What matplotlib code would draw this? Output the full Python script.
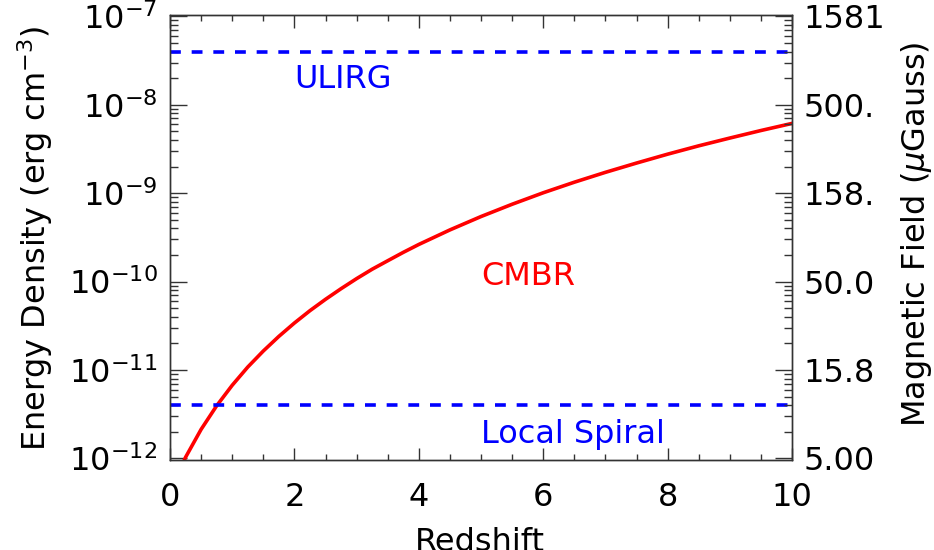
import matplotlib
matplotlib.use("Agg")
import matplotlib.pyplot as plt
from matplotlib.ticker import LogLocator, MultipleLocator, NullFormatter

plt.rcParams["font.family"] = ["DejaVu Sans"]
plt.rcParams["mathtext.fontset"] = "dejavusans"

# CMBR energy density vs redshift
redshift = [0.0, 0.25, 0.5, 0.75, 1.0, 1.25, 1.5, 1.75, 2.0, 2.25, 2.5,
            2.75, 3.0, 3.25, 3.5, 3.75, 4.0, 4.5, 5.0, 5.5, 6.0, 6.5, 7.0,
            7.5, 8.0, 8.5, 9.0, 9.5, 10.0]
cmbr = [4.2e-13, 1.03e-12, 2.13e-12, 3.94e-12, 6.72e-12, 1.08e-11,
        1.64e-11, 2.40e-11, 3.40e-11, 4.69e-11, 6.30e-11, 8.31e-11,
        1.08e-10, 1.38e-10, 1.72e-10, 2.14e-10, 2.63e-10, 3.84e-10,
        5.44e-10, 7.49e-10, 1.01e-9, 1.33e-9, 1.72e-9, 2.19e-9, 2.76e-9,
        3.43e-9, 4.20e-9, 5.11e-9, 6.15e-9]

ulirg = 4.0e-8
local_spiral = 4.0e-12

energy_ticks = [1e-12, 1e-11, 1e-10, 1e-9, 1e-8, 1e-7]
bfield_labels = ["5.00", "15.8", "50.0", "158.", "500.", "1581"]

FS = 23
AXC = "#333333"
LW = 2.6

fig = plt.figure(figsize=(9.34, 5.5), dpi=100)
ax = fig.add_axes([170 / 934, 1 - 460 / 550, 622 / 934, 445 / 550])

ax.plot(redshift, cmbr, color="red", lw=LW, solid_joinstyle="round")
ax.plot([0, 10], [ulirg, ulirg], color="blue", lw=LW, dashes=(3, 3))
ax.plot([0, 10], [local_spiral, local_spiral], color="blue", lw=LW,
        dashes=(3, 3))

ax.text(2.0, 1.56e-8, "ULIRG", color="blue", fontsize=FS, va="baseline")
ax.text(5.0, 9.1e-11, "CMBR", color="red", fontsize=FS, va="baseline")
ax.text(5.0, 1.5e-12, "Local Spiral", color="blue", fontsize=FS,
        va="baseline")

ax.set_xlim(0, 10)
ax.set_yscale("log")
ax.set_ylim(0.96e-12, 1.035e-7)
ax.set_yticks(energy_ticks)
ax.yaxis.set_minor_locator(LogLocator(base=10, subs=range(2, 10)))
ax.yaxis.set_minor_formatter(NullFormatter())
ax.xaxis.set_major_locator(MultipleLocator(2))
ax.xaxis.set_minor_locator(MultipleLocator(0.5))

for s in ax.spines.values():
    s.set_color(AXC)
    s.set_linewidth(1.0)

ax.tick_params(axis="x", which="both", direction="in", top=True,
               colors=AXC, labelcolor="black", labelsize=FS, pad=16)
ax.tick_params(axis="x", which="major", length=9, width=1)
ax.tick_params(axis="x", which="minor", length=4, width=1)
ax.tick_params(axis="y", which="both", direction="in", right=False,
               colors=AXC, labelcolor="black", labelsize=FS, pad=9)
ax.tick_params(axis="y", which="major", length=12, width=1)
ax.tick_params(axis="y", which="minor", length=6, width=1)

ax2 = ax.twinx()
ax2.set_yscale("log")
ax2.set_ylim(ax.get_ylim())
ax2.set_yticks(energy_ticks)
ax2.set_yticklabels(bfield_labels)
ax2.yaxis.set_minor_locator(LogLocator(base=10, subs=range(2, 10)))
ax2.yaxis.set_minor_formatter(NullFormatter())
ax2.tick_params(axis="y", which="both", direction="in", colors=AXC,
                labelcolor="black", labelsize=FS, pad=8)
ax2.tick_params(axis="y", which="major", length=12, width=1)
ax2.tick_params(axis="y", which="minor", length=6, width=1)
for s in ax2.spines.values():
    s.set_color(AXC)
    s.set_linewidth(1.0)

fig.text(480 / 934, 1 - 527 / 550, "Redshift", fontsize=FS, ha="center",
         va="top")
fig.text(35 / 934, 1 - 238 / 550, r"Energy Density (erg cm$^{-3}$)",
         fontsize=FS, rotation=90, ha="center", va="center")
fig.text(916 / 934, 1 - 234 / 550, r"Magnetic Field ($\mu$Gauss)",
         fontsize=FS, rotation=90, ha="center", va="center")

fig.savefig("out.png", dpi=100)
